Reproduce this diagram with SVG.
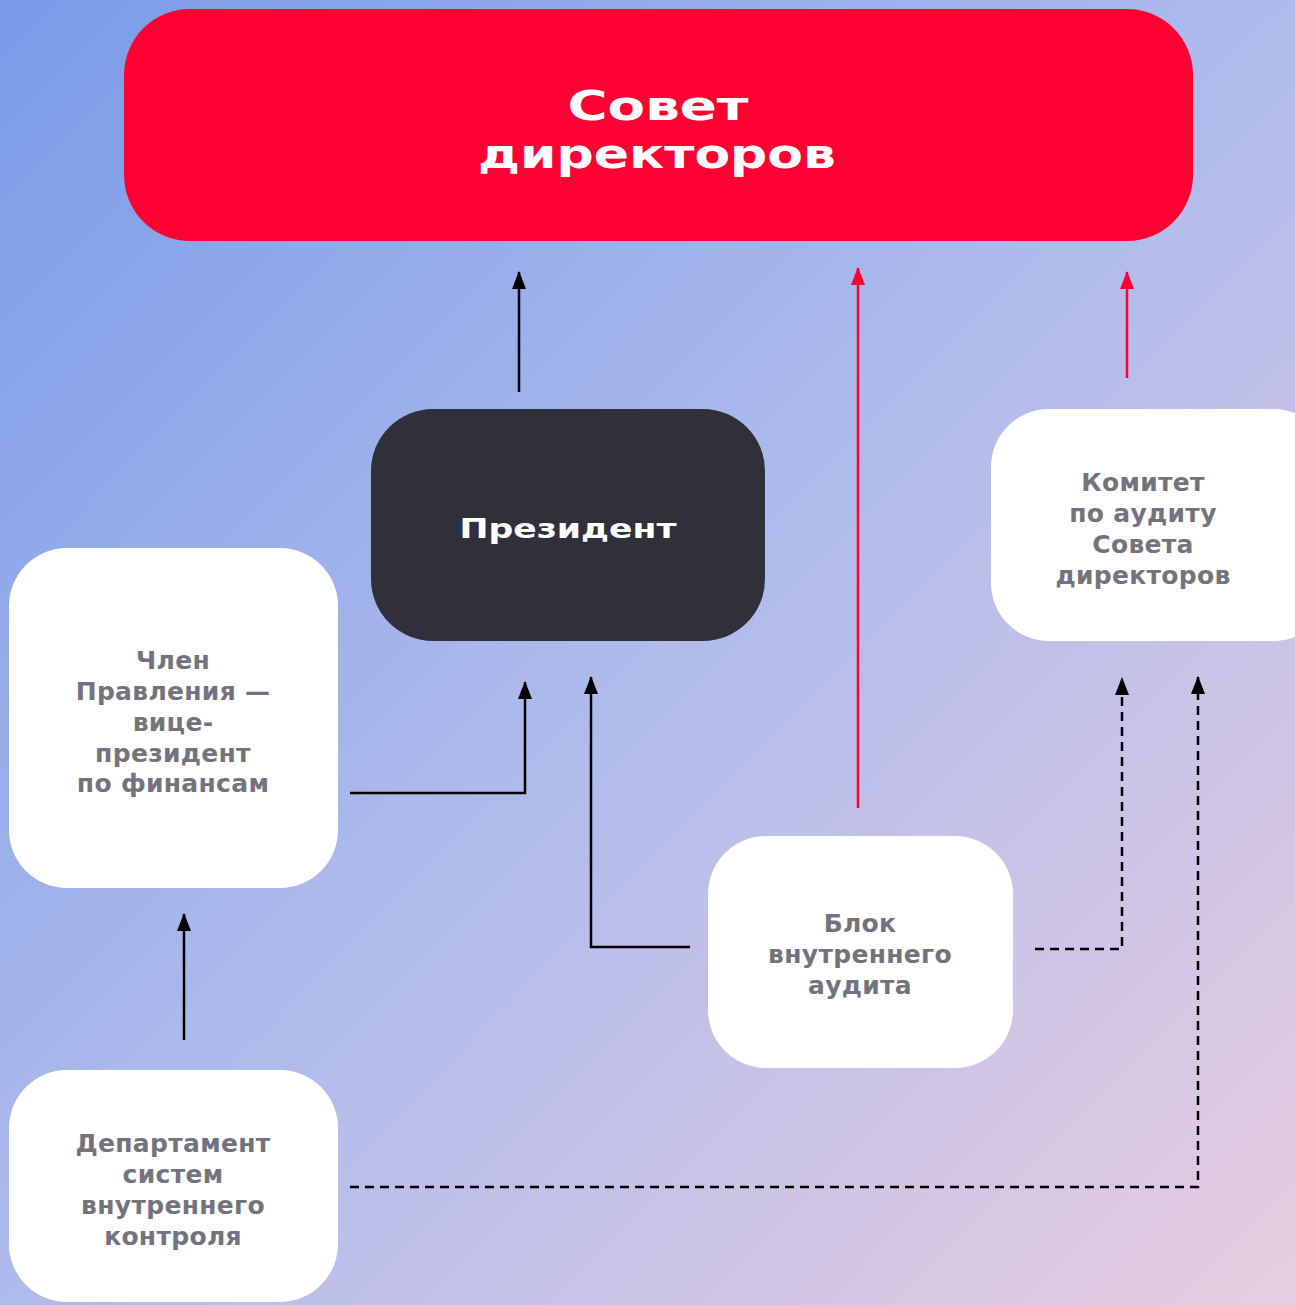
<svg xmlns="http://www.w3.org/2000/svg" width="1295" height="1305" viewBox="0 0 1295 1305">
<defs>
<linearGradient id="bg" x1="0" y1="0" x2="1" y2="1">
<stop offset="0" stop-color="#799be8"/>
<stop offset="0.5" stop-color="#afbbec"/>
<stop offset="1" stop-color="#e8cde0"/>
</linearGradient>
<marker id="ab" markerUnits="userSpaceOnUse" markerWidth="20" markerHeight="16" refX="18" refY="8" orient="auto" viewBox="0 0 20 16">
<path d="M19 8 L1 1 L1 15 Z" fill="#000"/>
</marker>
<marker id="ar" markerUnits="userSpaceOnUse" markerWidth="20" markerHeight="16" refX="18" refY="8" orient="auto" viewBox="0 0 20 16">
<path d="M19 8 L1 1 L1 15 Z" fill="#ff0033"/>
</marker>
<style>
.box{fill:#fff}
.t{font-family:"DejaVu Sans",sans-serif;font-size:25px;fill:#73737e;text-anchor:middle;font-weight:bold;letter-spacing:0.3px}
.w{font-family:"DejaVu Sans",sans-serif;fill:#fff;text-anchor:middle;font-weight:bold}
.c{fill:none;stroke:#000;stroke-width:2.5}
.r{fill:none;stroke:#ff0033;stroke-width:2.5}
.d{fill:none;stroke:#000;stroke-width:2.5;stroke-dasharray:9 6}
</style>
</defs>
<rect width="1295" height="1305" fill="url(#bg)"/>

<g id="board">
<rect x="124" y="9" width="1069" height="232" rx="66" fill="#ff0033"/>
<text class="w" x="658" y="120" font-size="40" textLength="181" lengthAdjust="spacingAndGlyphs">Совет</text>
<text class="w" x="657" y="168" font-size="40" textLength="358" lengthAdjust="spacingAndGlyphs">директоров</text>
</g>

<g id="president">
<rect x="371" y="409" width="394" height="232" rx="62" fill="#30303a"/>
<text class="w" x="568" y="538" font-size="27" textLength="217" lengthAdjust="spacingAndGlyphs">Президент</text>
</g>

<g id="cfo">
<rect class="box" x="9" y="548" width="329" height="340" rx="58"/>
<text class="t" x="173" y="669">Член</text>
<text class="t" x="173" y="700">Правления —</text>
<text class="t" x="173" y="731">вице-</text>
<text class="t" x="173" y="762">президент</text>
<text class="t" x="173" y="792">по финансам</text>
</g>

<g id="committee">
<rect class="box" x="991" y="409" width="340" height="232" rx="58"/>
<text class="t" x="1143" y="491">Комитет</text>
<text class="t" x="1143" y="522">по аудиту</text>
<text class="t" x="1143" y="553">Совета</text>
<text class="t" x="1143" y="584">директоров</text>
</g>

<g id="audit">
<rect class="box" x="708" y="836" width="305" height="232" rx="58"/>
<text class="t" x="860" y="932">Блок</text>
<text class="t" x="860" y="963">внутреннего</text>
<text class="t" x="860" y="994">аудита</text>
</g>

<g id="ics">
<rect class="box" x="9" y="1070" width="329" height="232" rx="58"/>
<text class="t" x="173" y="1152">Департамент</text>
<text class="t" x="173" y="1183">систем</text>
<text class="t" x="173" y="1214">внутреннего</text>
<text class="t" x="173" y="1245">контроля</text>
</g>

<g id="connectors">
<path class="c" d="M519 392 V272" marker-end="url(#ab)"/>
<path class="r" d="M858 808 V268" marker-end="url(#ar)"/>
<path class="r" d="M1127 378 V272" marker-end="url(#ar)"/>
<path class="c" d="M350 793 H525 V682" marker-end="url(#ab)"/>
<path class="c" d="M690 947 H591 V677" marker-end="url(#ab)"/>
<path class="d" d="M1035 949 H1122 V678" marker-end="url(#ab)"/>
<path class="d" d="M350 1187 H1198 V677" marker-end="url(#ab)"/>
<path class="c" d="M184 1040 V914" marker-end="url(#ab)"/>
</g>
</svg>
